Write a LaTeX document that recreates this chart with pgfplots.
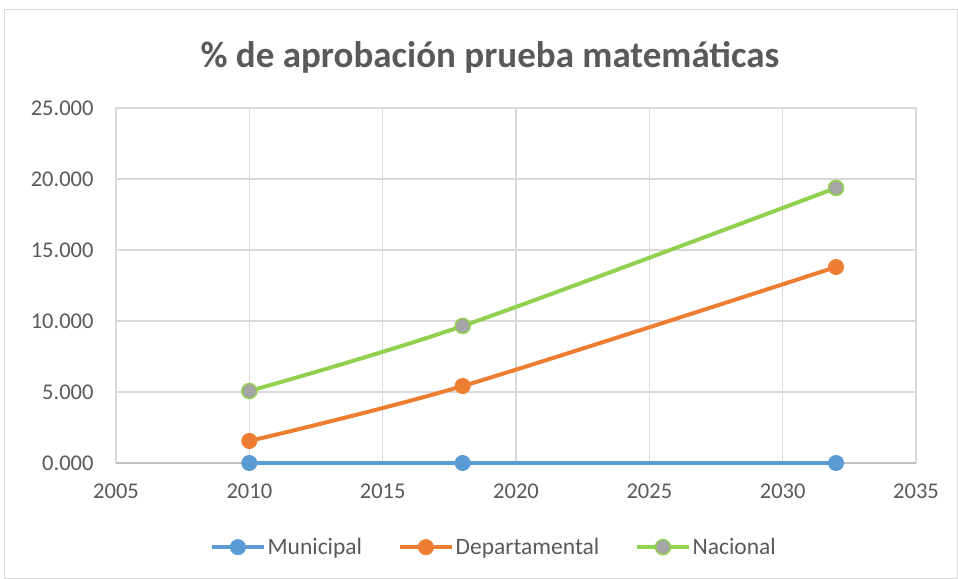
\documentclass[border=0pt]{standalone}
\usepackage{pgfplots}
\pgfplotsset{compat=1.18}
\usepackage{fontspec}
\setmainfont{Carlito}
\definecolor{txt}{HTML}{595959}
\definecolor{grd}{HTML}{D9D9D9}
\definecolor{cblue}{HTML}{5B9BD5}
\definecolor{corange}{HTML}{ED7D31}
\definecolor{cgreen}{HTML}{92D050}
\definecolor{cgray}{HTML}{A5A5A5}
\begin{document}
\begin{tikzpicture}[x=1bp,y=1bp]
\path[use as bounding box] (-116,-116) rectangle (842,463);
\draw[grd,line width=1bp] (-111,-115.5) rectangle (841.5,453);
\node[font=\fontsize{37bp}{44bp}\selectfont\bfseries,text=txt] at (374,406) {\% de aprobación prueba matemáticas};
\begin{axis}[
  at={(0,0)}, anchor=south west,
  scale only axis, width=800bp, height=355bp,
  xmin=2005, xmax=2035, ymin=0, ymax=25,
  xtick={2005,2010,...,2035}, ytick={0,5,...,25},
  grid=major, major grid style={grd,line width=1.3bp},
  axis line style={draw=none},
  tick style={draw=none},
  clip=false,
  x tick label style={/pgf/number format/1000 sep={}},
  y tick label style={/pgf/number format/fixed,/pgf/number format/fixed zerofill,/pgf/number format/precision=3},
  /pgf/number format/assume math mode=true,
  ticklabel style={font=\fontsize{22.5bp}{26bp}\selectfont,text=txt},
  xticklabel style={yshift=-17bp},
  yticklabel style={xshift=-19bp},
  legend style={at={(0.4725,-0.237)},anchor=center,draw=none,legend columns=3,
    font=\fontsize{23.5bp}{28bp}\selectfont,text=txt,
    /tikz/every even column/.append style={column sep=34bp}},
  legend image code/.code={\draw[#1,line width=3.5bp] (0bp,0bp) -- (52bp,0bp); \draw[#1] plot[mark=*] coordinates {(26bp,0bp)};},
]
\draw[line width=1.3bp,draw=black!25] (axis cs:2005,0) -- (axis cs:2035,0);
\addplot[cblue, line width=4bp, mark=*, mark size=7.5bp, mark options={fill=cblue,draw=cblue,line width=1bp}] coordinates {(2010,0) (2018,0) (2032,0)};
\addlegendentry{Municipal}
\addplot[corange, line width=4bp, smooth, mark=*, mark size=7.5bp, mark options={fill=corange,draw=corange,line width=1bp}] coordinates {(2010,1.55) (2018,5.42) (2032,13.8)};
\addlegendentry{Departamental}
\addplot[cgreen, line width=4bp, smooth, mark=*, mark size=7.5bp, mark options={fill=cgray,draw=cgreen,line width=1.5bp}] coordinates {(2010,5.07) (2018,9.65) (2032,19.37)};
\addlegendentry{Nacional}
\end{axis}
\end{tikzpicture}
\end{document}
